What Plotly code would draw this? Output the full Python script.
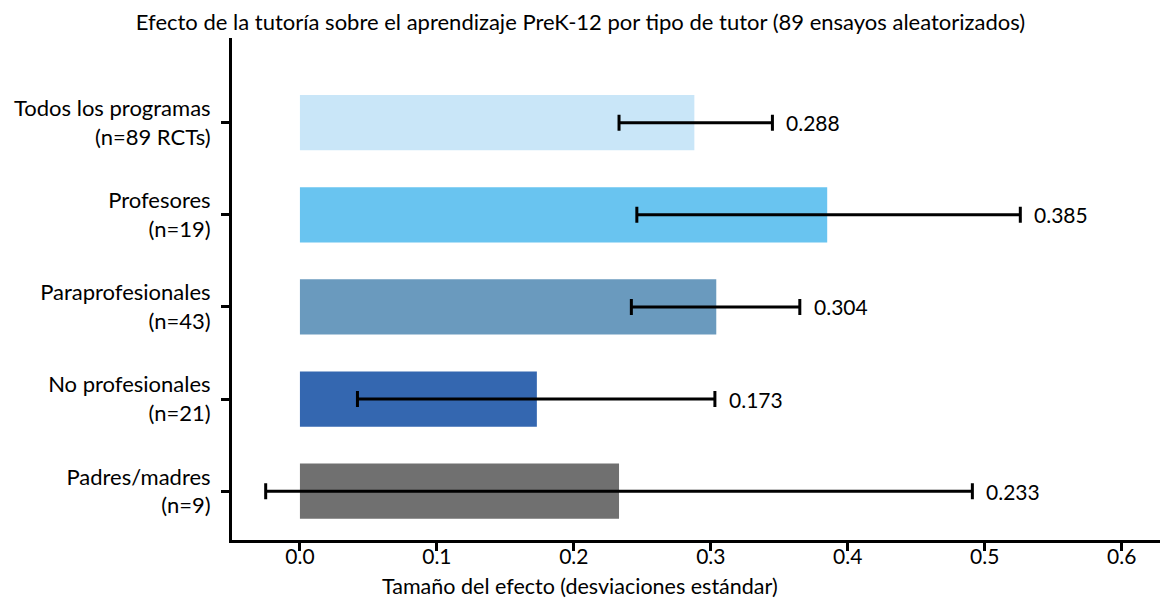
import plotly.graph_objects as go

# Effect sizes by tutor type, with 95% confidence intervals
categories = ["Padres/madres<br>(n=9)", "No profesionales<br>(n=21)",
              "Paraprofesionales<br>(n=43)", "Profesores<br>(n=19)",
              "Todos los programas<br>(n=89 RCTs)"]
effect = [0.233, 0.173, 0.304, 0.385, 0.288]
ci_low = [-0.025, 0.042, 0.242, 0.246, 0.233]
ci_high = [0.491, 0.303, 0.365, 0.526, 0.345]
colors = ["#707070", "#3467b0", "#6a9abe", "#69c4f0", "#c9e6f8"]
value_labels = ["0.233", "0.173", "0.304", "0.385", "0.288"]
x_ticks = [0.0, 0.1, 0.2, 0.3, 0.4, 0.5, 0.6]

FONT = "Lato, Carlito, Calibri, sans-serif"

fig = go.Figure()
fig.add_trace(go.Bar(
    y=categories, x=effect, orientation="h",
    marker=dict(color=colors, line=dict(width=0)),
    width=0.6,
    error_x=dict(type="data", symmetric=False,
                 array=[h - e for h, e in zip(ci_high, effect)],
                 arrayminus=[e - l for e, l in zip(effect, ci_low)],
                 color="black", thickness=3, width=8),
    hoverinfo="skip",
))

for cat, hi, lab in zip(categories, ci_high, value_labels):
    fig.add_annotation(x=hi, y=cat, text=lab, showarrow=False,
                       xanchor="left", xshift=12,
                       font=dict(size=21, color="black", family=FONT))

# axis title centred on the page rather than on the plot area
fig.add_annotation(x=(580 - 232) / 928, y=0, xref="paper", yref="paper",
                   yshift=-46,
                   text="Tamaño del efecto (desviaciones estándar)",
                   showarrow=False, xanchor="center", yanchor="middle",
                   font=dict(size=21.5, color="black", family=FONT))

fig.update_layout(
    width=1161, height=600,
    margin=dict(l=232, r=1, t=38, b=60),
    paper_bgcolor="white", plot_bgcolor="white",
    showlegend=False,
    font=dict(family=FONT, size=21, color="black"),
    title=dict(text="Efecto de la tutoría sobre el aprendizaje PreK-12 por tipo de tutor (89 ensayos aleatorizados)",
               x=0.5, xanchor="center", y=0.963, yanchor="middle",
               font=dict(size=22, family=FONT, color="black")),
    xaxis=dict(range=[-0.0496, 0.628], tickvals=x_ticks,
               ticktext=[f"{v:.1f}" for v in x_ticks],
               showgrid=False, zeroline=False,
               showline=True, linecolor="black", linewidth=3,
               ticks="outside", ticklen=8, tickwidth=3, tickcolor="black",
               ticklabelstandoff=-12,
               tickfont=dict(size=21, family=FONT)),
    yaxis=dict(range=[-0.53, 4.92], showgrid=False, zeroline=False,
               showline=True, linecolor="black", linewidth=3,
               ticks="outside", ticklen=8, tickwidth=3, tickcolor="black",
               ticklabelstandoff=6,
               tickfont=dict(size=22, family=FONT)),
)

fig.write_html("out.html")
